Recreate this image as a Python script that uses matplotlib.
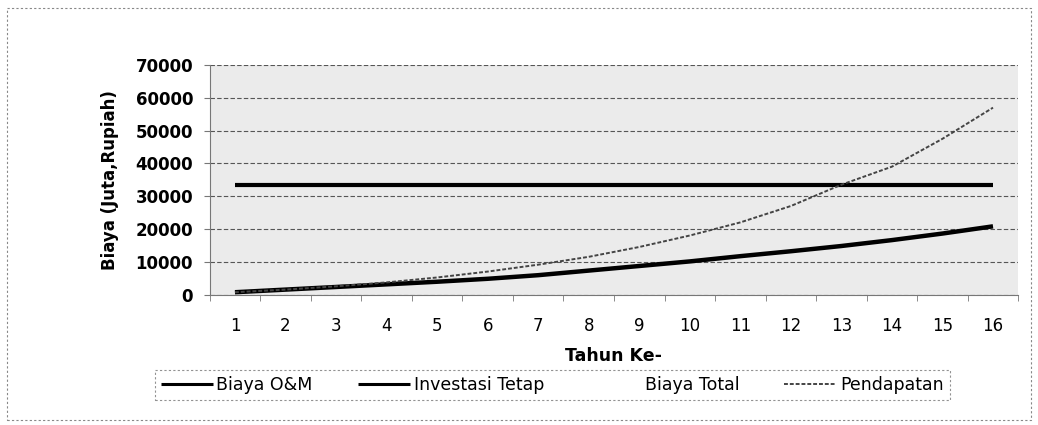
import matplotlib
matplotlib.use("Agg")
from matplotlib import pyplot as plt
from matplotlib.patches import Rectangle
import numpy as np

# data
tahun = list(range(1, 17))
biaya_om = [700, 1500, 2300, 3100, 3900, 4800, 5900, 7300, 8700, 10100,
            11700, 13200, 14800, 16600, 18600, 20800]
investasi = [33500] * 16
biaya_total = [34200, 35000, 35800, 36600, 37400, 38300, 39400, 40800, 42200, 43600,
               45200, 46700, 48300, 50100, 52100, 54300]
pendapatan = [700, 1500, 2500, 3700, 5200, 7000, 9100, 11500, 14500, 18000,
              22000, 27000, 33500, 39000, 47500, 57000]

plt.rcParams['font.family'] = ['DejaVu Sans']

fig = plt.figure(figsize=(10.38, 4.25), dpi=100)
ax = fig.add_axes([0.202, 0.307, 0.779, 0.54])

ax.set_facecolor('#ebebeb')
ax.plot(tahun, biaya_om, color='black', lw=3.2, solid_capstyle='butt', label='Biaya O&M', zorder=3)
ax.plot(tahun, investasi, color='black', lw=3.0, solid_capstyle='butt', label='Investasi Tetap', zorder=3)
ax.plot(tahun, biaya_total, linestyle='none', label='Biaya Total')
ax.plot(tahun, pendapatan, color='#444444', lw=1.4, linestyle=(0, (2, 1)), label='Pendapatan', zorder=3)

ax.set_xlim(0.5, 16.5)
ax.set_ylim(0, 70000)
ax.set_yticks(np.arange(0, 70001, 10000))
ax.set_yticklabels([str(v) for v in range(0, 70001, 10000)], fontsize=12, fontweight='bold')
ax.set_xticks(tahun)
ax.set_xticklabels([str(t) for t in tahun], fontsize=12)
ax.set_xticks(np.arange(0.5, 16.6, 1), minor=True)
ax.tick_params(axis='x', which='major', length=0, pad=16)
ax.tick_params(axis='x', which='minor', length=4, color='#777777')
ax.tick_params(axis='y', length=4, color='#777777', pad=8)

ax.grid(axis='y', color='#555555', lw=0.8, linestyle=(0, (4, 2)), zorder=1)
ax.set_axisbelow(True)
for s in ['top', 'right']:
    ax.spines[s].set_visible(False)
for s in ['left', 'bottom']:
    ax.spines[s].set_color('#777777')
    ax.spines[s].set_linewidth(0.8)

ax.set_xlabel('Tahun Ke-', fontsize=12.5, fontweight='bold', labelpad=9)
ax.set_ylabel('Biaya (Juta,Rupiah)', fontsize=12, fontweight='bold', labelpad=12)

leg = fig.legend(loc='center', bbox_to_anchor=(0.532, 0.094), ncol=4, fontsize=12.5,
                 frameon=True, fancybox=False, handlelength=3.0, handletextpad=0.2,
                 columnspacing=2.6, borderpad=0.35)
for h in leg.get_lines()[:2]:
    h.set_linewidth(2.2)
leg.get_frame().set_edgecolor('#777777')
leg.get_frame().set_linestyle((0, (2, 2)))
leg.get_frame().set_linewidth(0.8)

# outer dotted frame
fig.patches.append(Rectangle((0.007, 0.012), 0.986, 0.97, transform=fig.transFigure,
                             fill=False, edgecolor='#888888', lw=0.8, linestyle=(0, (2, 2))))

fig.savefig('out.png', dpi=100)
